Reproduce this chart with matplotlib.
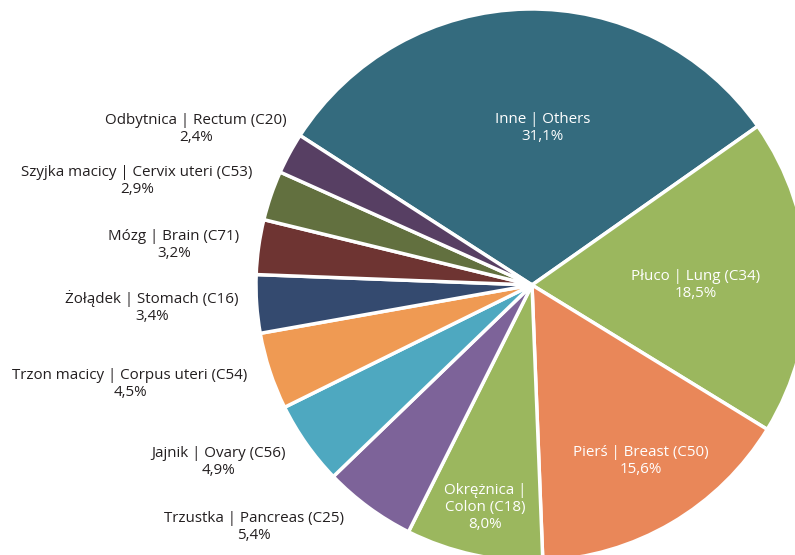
import matplotlib.pyplot as plt

W,H=795,555

names=["Inne | Others","Płuco | Lung (C34)","Pierś | Breast (C50)","Okrężnica |\nColon (C18)",
       "Trzustka | Pancreas (C25)","Jajnik | Ovary (C56)","Trzon macicy | Corpus uteri (C54)",
       "Żołądek | Stomach (C16)","Mózg | Brain (C71)","Szyjka macicy | Cervix uteri (C53)",
       "Odbytnica | Rectum (C20)"]
shares=[31.1,18.5,15.6,8.0,5.4,4.9,4.5,3.4,3.2,2.9,2.4]
colors=["#346b7e","#9bb75e","#e98759","#9bb75e","#7d6399","#4ea8c0","#ef9a53",
        "#344a6f","#6e3432","#62703f","#573f63"]

# label anchor spots in pixels (x centre, y of first line), white ones sit inside
label_pos=[(543,119),(696,276),(641,452),(485,490),(254,518),(218,453),(130,375),
           (152,297),(174,236),(137,172),(196,120)]
inside=[True,True,True,True,False,False,False,False,False,False,False]

plt.rcParams['font.family']=['Open Sans','DejaVu Sans']

fig=plt.figure(figsize=(W/100,H/100),dpi=100)
ax=fig.add_axes([0,0,1,1])
ax.pie(shares,colors=colors,startangle=147.2,counterclock=False,
       center=(532,H-285),radius=276,
       wedgeprops=dict(edgecolor="white",linewidth=2.5))
ax.set_xlim(0,W)
ax.set_ylim(0,H)
ax.set_aspect("equal")
ax.axis("off")

for name,v,(x,y),ins in zip(names,shares,label_pos,inside):
    txt=name+"\n"+f"{v:.1f}%".replace(".",",")
    ax.text(x,H-y+7,txt,ha="center",va="top",fontsize=10.9,linespacing=1.2,
            color="white" if ins else "#231f20")

fig.savefig("out.png",dpi=100)
